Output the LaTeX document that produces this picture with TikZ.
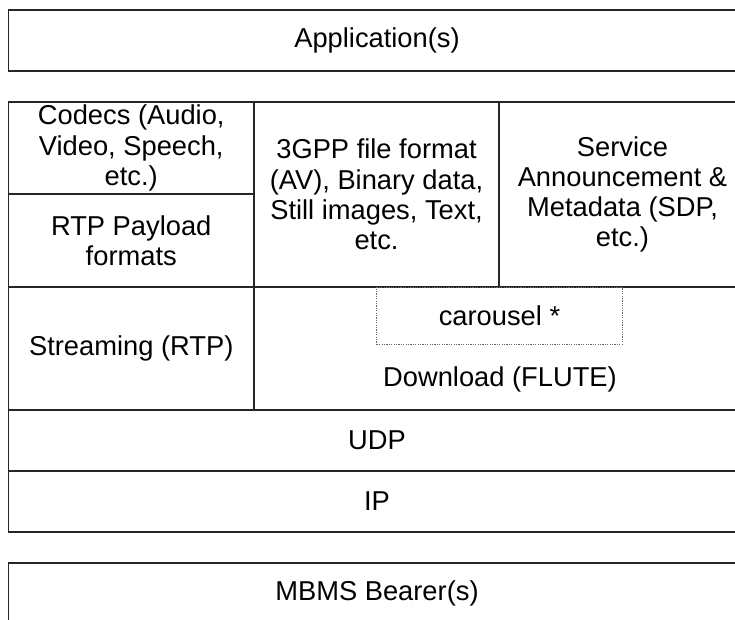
\documentclass[tikz,border=0pt]{standalone}
\usepackage{fontspec}
\setmainfont{Liberation Sans}
\begin{document}
\begin{tikzpicture}[x=1pt,y=-1pt,
  cell/.style={draw=black!85,line width=1.4pt,rectangle,inner sep=0pt,align=center,
    font=\fontsize{27.3}{30.2}\selectfont},
  dotbox/.style={draw=black!60,line width=0.7pt,dash pattern=on 1.2pt off 1.2pt,rectangle,inner sep=0pt,
    font=\fontsize{27.3}{30.2}\selectfont},
  lbl/.style={inner sep=0pt,font=\fontsize{27.3}{30.2}\selectfont,align=center}]
\useasboundingbox (0,0) rectangle (735,619);
\clip (0,0) rectangle (735,619);
\node[cell,minimum width=737pt,minimum height=61pt] (app) at (377,40.5) {Application(s)};
\node[cell,minimum width=245.5pt,minimum height=92pt] (codecs) at (131.25,148) {Codecs (Audio,\\Video, Speech,\\etc.)};
\node[cell,minimum width=245.5pt,minimum height=93pt] (rtp) at (131.25,240.5) {RTP Payload\\formats};
\node[cell,minimum width=245pt,minimum height=185pt] (gpp) at (376.5,194.5) {3GPP file format\\(AV), Binary data,\\Still images, Text,\\etc.};
\node[cell,minimum width=247pt,minimum height=185pt] (sa) at (622.5,194.5) {Service\\Announcement \&\\Metadata (SDP,\\etc.)};
\node[cell,minimum width=245.5pt,minimum height=123pt] (stream) at (131.25,348.5) {Streaming (RTP)};
\node[cell,minimum width=492pt,minimum height=123pt] (dl) at (500,348.5) {};
\node[dotbox,minimum width=245.5pt,minimum height=57pt] (car) at (499.5,315.5) {carousel *};
\node[lbl] (dltext) at (500,379) {Download (FLUTE)};
\node[cell,minimum width=737pt,minimum height=61pt] (udp) at (377,440.5) {UDP};
\node[cell,minimum width=737pt,minimum height=61pt] (ip) at (377,501.5) {IP};
\node[cell,minimum width=737pt,minimum height=61pt] (mbms) at (377,593.5) {MBMS Bearer(s)};
\end{tikzpicture}
\end{document}
